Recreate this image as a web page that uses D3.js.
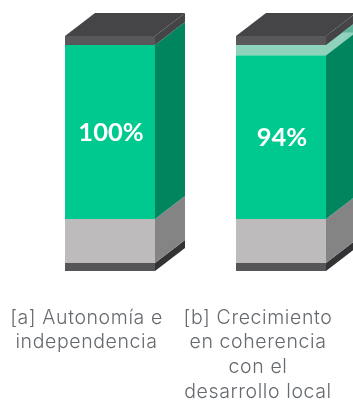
<!DOCTYPE html>
<html><head><meta charset="utf-8">
<script src="https://cdnjs.cloudflare.com/ajax/libs/d3/7.8.5/d3.min.js"></script>
<style>html,body{margin:0;padding:0;background:#fff;overflow:hidden}svg{display:block;filter:blur(0.45px)}</style>
</head><body><svg id="c" width="353" height="403"></svg>
<script>
const categories = ["a","b"];
const values = [100, 94];
const valueLabels = ["100%","94%"];
const categoryLines = [["[a] Autonomía e","independencia"],["[b] Crecimiento","en coherencia","con el","desarrollo local"]];

const depthX=30, depthY=23, barW=90;
const svg=d3.select("#c");
const x=d3.scalePoint().domain(categories).range([65,236]);
const y=d3.scaleLinear().domain([0,100]).range([219,45]);
const lidH=9, greyH=44, baseH=8;
const C={green:"#00c98f",greenSide:"#00855f",ghost:"#8fd3bd",ghostSide:"#5fb49c",
 lidFront:"#58585a",lidTop:"#454547",grey:"#bdbbbb",greySide:"#848484",baseFront:"#565658",baseSide:"#333335"};
const poly=(pts,fill)=>svg.append("polygon").attr("points",pts.map(p=>p.join(",")).join(" ")).attr("fill",fill);
function box(x0,yTop,yBot,front,side){
  poly([[x0,yTop],[x0+barW,yTop],[x0+barW,yBot],[x0,yBot]],front);
  poly([[x0+barW,yTop],[x0+barW+depthX,yTop-depthY],[x0+barW+depthX,yBot-depthY],[x0+barW,yBot]],side);
}
function topFace(x0,yTop,fill){
  poly([[x0,yTop],[x0+barW,yTop],[x0+barW+depthX,yTop-depthY],[x0+depthX,yTop-depthY]],fill);
}
categories.forEach((c,i)=>{
  const x0=x(c), v=values[i];
  const g0=y(0), top=y(100), gv=y(v);
  box(x0,g0+greyH,g0+greyH+baseH,C.baseFront,C.baseSide);
  box(x0,g0,g0+greyH,C.grey,C.greySide);
  if(v<100){
    box(x0,top,gv,C.ghost,C.ghostSide);
    topFace(x0,gv,C.ghost);
  }
  box(x0,gv,g0,C.green,C.greenSide);
  box(x0,top-lidH,top,C.lidFront,C.lidTop);
  topFace(x0,top-lidH,C.lidTop);
  svg.append("text").attr("x",x0+barW/2+1).attr("y",(gv+g0)/2+9)
    .attr("text-anchor","middle").attr("fill","#fff").attr("font-family","Lato, sans-serif")
    .attr("font-weight",700).attr("font-size",25.5).text(valueLabels[i]);
  const cx=[86.5,258][i];
  categoryLines[i].forEach((t,j)=>svg.append("text").attr("x",cx).attr("y",323.5+j*24.8)
    .attr("text-anchor","middle").attr("fill","#666a6e").attr("font-family","Inter, sans-serif")
    .attr("font-size",19.5).attr("letter-spacing",0.6).attr("font-weight",300).text(t));
});
</script></body></html>
